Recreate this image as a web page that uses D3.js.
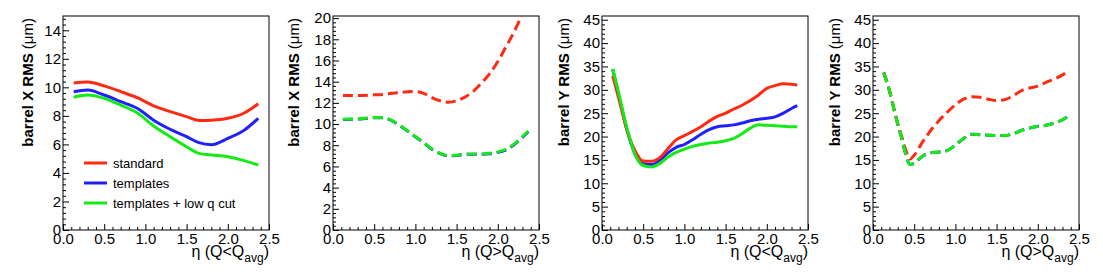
<!DOCTYPE html>
<html>
<head>
<meta charset="utf-8">
<script src="https://cdn.jsdelivr.net/npm/d3@7"></script>
<style>
  body { margin: 0; background: #fff; }
  text { font-family: "Liberation Sans", Arial, sans-serif; }
</style>
</head>
<body>
<div id="chart"></div>
<script>
// eta grid for each panel
const etaXlow = [0.13, 0.3, 0.5, 0.7, 0.9, 1.1, 1.3, 1.5, 1.65, 1.8, 2.0, 2.2, 2.37];
const etaXhigh = [0.12, 0.3, 0.5, 0.6, 0.7, 0.8, 0.9, 1.0, 1.1, 1.2, 1.3, 1.4, 1.5, 1.6, 1.7, 1.8, 1.9, 2.0, 2.1, 2.2, 2.3, 2.37];
const etaYlow = [0.13, 0.2, 0.3, 0.4, 0.5, 0.6, 0.7, 0.8, 0.9, 1.0, 1.1, 1.2, 1.3, 1.4, 1.5, 1.6, 1.7, 1.8, 1.9, 2.0, 2.1, 2.2, 2.3, 2.37];
const etaYhigh = [0.13, 0.2, 0.25, 0.3, 0.35, 0.4, 0.45, 0.5, 0.6, 0.7, 0.8, 0.9, 1.0, 1.1, 1.2, 1.3, 1.4, 1.5, 1.6, 1.7, 1.8, 1.9, 2.0, 2.1, 2.2, 2.3, 2.37];

// barrel X, Q < Qavg
const xLowStandard  = [10.3, 10.37, 10.1, 9.7, 9.27, 8.7, 8.3, 7.95, 7.68, 7.7, 7.83, 8.2, 8.85];
const xLowTemplates = [9.69, 9.81, 9.46, 9.0, 8.53, 7.7, 7.06, 6.54, 6.12, 5.98, 6.42, 7.0, 7.83];
const xLowCut       = [9.3, 9.46, 9.23, 8.76, 8.22, 7.29, 6.54, 5.84, 5.37, 5.26, 5.14, 4.86, 4.55];

// barrel X, Q > Qavg
const xHighStandard  = [12.69, 12.69, 12.76, 12.8, 12.88, 12.96, 13.04, 13.07, 12.9, 12.5, 12.2, 12.06, 12.19, 12.54, 13.07, 13.86, 14.74, 15.9, 17.3, 18.74, 20.4, 21.6];
const xHighTemplates = [10.44, 10.47, 10.59, 10.59, 10.37, 9.9, 9.37, 8.8, 8.23, 7.63, 7.22, 7.0, 7.04, 7.13, 7.16, 7.16, 7.2, 7.33, 7.57, 8.07, 8.75, 9.28];
const xHighCut       = [10.46, 10.49, 10.61, 10.61, 10.39, 9.92, 9.39, 8.82, 8.25, 7.65, 7.24, 7.02, 7.06, 7.15, 7.18, 7.18, 7.24, 7.37, 7.62, 8.13, 8.82, 9.35];

// barrel Y, Q < Qavg
const yLowStandard  = [33.0, 28.4, 21.6, 17.0, 14.75, 14.7, 15.5, 17.4, 19.3, 20.2, 21.1, 22.1, 23.3, 24.3, 25.0, 25.9, 26.7, 27.7, 28.9, 30.3, 30.9, 31.3, 31.2, 31.0];
const yLowTemplates = [34.4, 29.1, 21.6, 16.3, 14.2, 14.0, 14.9, 16.5, 17.7, 18.3, 19.3, 20.5, 21.5, 22.1, 22.3, 22.5, 22.9, 23.4, 23.7, 23.9, 24.2, 25.0, 26.0, 26.6];
const yLowCut       = [34.5, 29.5, 22.0, 16.2, 13.8, 13.5, 14.2, 15.6, 16.6, 17.3, 17.9, 18.3, 18.6, 18.8, 19.1, 19.6, 20.6, 21.8, 22.5, 22.4, 22.3, 22.2, 22.1, 22.1];

// barrel Y, Q > Qavg
const yHighStandard  = [33.7, 29.8, 26.2, 22.7, 19.9, 17.0, 15.2, 16.0, 18.8, 21.3, 23.4, 25.2, 26.8, 28.0, 28.5, 28.4, 28.0, 27.7, 27.9, 28.7, 29.8, 30.4, 30.8, 31.6, 32.3, 33.2, 34.0];
const yHighTemplates = [33.7, 29.8, 26.2, 22.7, 19.5, 16.0, 14.0, 14.3, 15.8, 16.5, 16.7, 17.0, 18.2, 19.6, 20.5, 20.4, 20.3, 20.2, 20.2, 20.6, 21.3, 21.8, 22.2, 22.4, 22.9, 23.6, 24.4];
const yHighCut       = [33.7, 29.8, 26.2, 22.7, 19.5, 16.0, 14.0, 14.3, 15.8, 16.5, 16.7, 17.0, 18.2, 19.6, 20.5, 20.4, 20.3, 20.2, 20.2, 20.6, 21.3, 21.8, 22.2, 22.4, 22.9, 23.6, 24.4];

const seriesNames = ["standard", "templates", "templates + low q cut"];
const seriesColors = ["#ff2a12", "#2020ff", "#14ea14"];

const xTicks = [0, 0.5, 1.0, 1.5, 2.0, 2.5];
const yTicksX1 = [0, 2, 4, 6, 8, 10, 12, 14];
const yTicksX2 = [0, 2, 4, 6, 8, 10, 12, 14, 16, 18, 20];
const yTicksY = [0, 5, 10, 15, 20, 25, 30, 35, 40, 45];

const panels = [
  {left: 63, axis: "X", q: "<", eta: etaXlow, ymax: 15, yticks: yTicksX1, yminor: 0.4, titleX: -30,
   series: [xLowStandard, xLowTemplates, xLowCut], dashed: false, legend: true},
  {left: 333, axis: "X", q: ">", eta: etaXhigh, ymax: 20.2, yticks: yTicksX2, yminor: 0.4, titleX: -34,
   series: [xHighStandard, xHighTemplates, xHighCut], dashed: true},
  {left: 602, axis: "Y", q: "<", eta: etaYlow, ymax: 45.8, yticks: yTicksY, yminor: 1, titleX: -33,
   series: [yLowStandard, yLowTemplates, yLowCut], dashed: false},
  {left: 873, axis: "Y", q: ">", eta: etaYhigh, ymax: 45.8, yticks: yTicksY, yminor: 1, titleX: -33,
   series: [yHighStandard, yHighTemplates, yHighCut], dashed: true}
];

const width = 1103, height = 277;
const pw = 206, frameTop = 16, frameBottom = 230;

const svg = d3.select("#chart").append("svg")
  .attr("width", width)
  .attr("height", height);

panels.forEach((p, i) => {
  const g = svg.append("g").attr("transform", `translate(${p.left},0)`);

  const x = d3.scaleLinear().domain([0, 2.5]).range([0, pw]);
  const y = d3.scaleLinear().domain([0, p.ymax]).range([frameBottom, frameTop]);

  // clip
  g.append("clipPath").attr("id", "clip" + i)
    .append("rect").attr("x", 0).attr("y", frameTop).attr("width", pw).attr("height", frameBottom - frameTop);

  // minor ticks
  const xMinor = d3.range(0, 2.501, 0.1).filter(v => Math.abs(v * 2 - Math.round(v * 2)) > 1e-6);
  g.append("g")
    .attr("transform", `translate(0,${frameBottom})`)
    .call(d3.axisBottom(x).tickValues(xMinor).tickSizeInner(-3).tickSizeOuter(0).tickFormat(""))
    .call(a => a.select(".domain").remove());

  const yMinorVals = d3.range(0, p.ymax, p.yminor).filter(v => !p.yticks.some(t => Math.abs(t - v) < 1e-6));
  g.append("g")
    .call(d3.axisLeft(y).tickValues(yMinorVals).tickSizeInner(-3).tickSizeOuter(0).tickFormat(""))
    .call(a => a.select(".domain").remove());

  // major axes
  g.append("g")
    .attr("transform", `translate(0,${frameBottom})`)
    .call(d3.axisBottom(x).tickValues(xTicks).tickSizeInner(-6).tickSizeOuter(0).tickPadding(3).tickFormat(d3.format(".1f")))
    .call(a => a.select(".domain").remove())
    .call(a => a.selectAll("text").attr("font-size", 15).attr("fill", "#000").attr("font-family", "Liberation Sans, Arial, sans-serif"));

  g.append("g")
    .call(d3.axisLeft(y).tickValues(p.yticks).tickSizeInner(-6).tickSizeOuter(0).tickPadding(2))
    .call(a => a.select(".domain").remove())
    .call(a => a.selectAll("text").attr("font-size", 15).attr("fill", "#000").attr("font-family", "Liberation Sans, Arial, sans-serif"));

  // frame
  g.append("rect")
    .attr("x", 0).attr("y", frameTop)
    .attr("width", pw).attr("height", frameBottom - frameTop)
    .attr("fill", "none").attr("stroke", "#000").attr("stroke-width", 1);

  // curves
  const line = d3.line()
    .x((d, k) => x(p.eta[k]))
    .y(d => y(d))
    .curve(d3.curveMonotoneX);

  const lines = g.append("g").attr("clip-path", `url(#clip${i})`);
  // draw templates first, then standard, then low-q cut on top
  [1, 0, 2].forEach(s => {
    lines.append("path")
      .datum(p.series[s])
      .attr("d", line)
      .attr("fill", "none")
      .attr("stroke", seriesColors[s])
      .attr("stroke-width", 3)
      .attr("stroke-dasharray", p.dashed ? "10,5" : null);
  });

  // y title
  const yt = g.append("text")
    .attr("transform", `translate(${p.titleX},${frameTop + 2}) rotate(-90)`)
    .attr("text-anchor", "end")
    .attr("font-size", 15)
    .attr("fill", "#000");
  yt.append("tspan").attr("font-weight", "bold").text(`barrel ${p.axis} RMS `);
  yt.append("tspan").text("(μm)");

  // x title
  const xt = g.append("text")
    .attr("x", pw)
    .attr("y", 257)
    .attr("text-anchor", "end")
    .attr("font-size", 16)
    .attr("fill", "#000");
  xt.append("tspan").text(`η (Q${p.q}Q`);
  xt.append("tspan").attr("font-size", 12).attr("dy", 5).text("avg");
  xt.append("tspan").attr("dy", -5).text(")");

  // legend
  if (p.legend) {
    const lg = g.append("g");
    seriesNames.forEach((name, s) => {
      const ly = 163 + s * 20;
      lg.append("line")
        .attr("x1", 21).attr("x2", 44)
        .attr("y1", ly).attr("y2", ly)
        .attr("stroke", seriesColors[s]).attr("stroke-width", 3);
      lg.append("text")
        .attr("x", 50).attr("y", ly + 4.5)
        .attr("font-size", 13)
        .attr("fill", "#000")
        .text(name);
    });
  }
});
</script>
</body>
</html>
